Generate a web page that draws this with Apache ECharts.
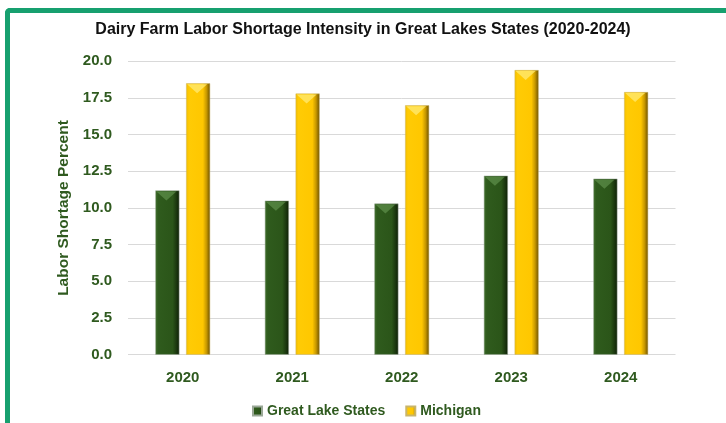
<!DOCTYPE html>
<html>
<head>
<meta charset="utf-8">
<script src="https://cdn.jsdelivr.net/npm/echarts@6/dist/echarts.min.js"></script>
<style>
  html, body { margin: 0; padding: 0; background: #fff; }
  #frame {
    position: absolute; left: 5px; top: 8px; width: 760px; height: 460px;
    border-left: 5px solid #17a06f; border-top: 5px solid #17a06f;
    border-top-left-radius: 5px; box-sizing: border-box;
  }
  #chart { position: absolute; left: 0; top: 0; width: 726px; height: 423px; }
</style>
</head>
<body>
<div id="frame"></div>
<div id="chart"></div>
<script>
const years = ['2020', '2021', '2022', '2023', '2024'];
const greatLakeStates = [11.2, 10.5, 10.3, 12.2, 12.0];
const michigan = [18.5, 17.8, 17.0, 19.4, 17.9];
const yTicks = [0, 2.5, 20];

const labelGreen = '#2f5a1f';
const BAR_W = 24;
const BAR_GAP = '28%';

const greenFill = new echarts.graphic.LinearGradient(0, 0, 1, 0, [
  { offset: 0, color: '#3d6c29' },
  { offset: 0.12, color: '#2f5b1d' },
  { offset: 0.72, color: '#2b5519' },
  { offset: 0.86, color: '#1d3b10' },
  { offset: 1, color: '#0e1f06' }
]);
const yellowFill = new echarts.graphic.LinearGradient(0, 0, 1, 0, [
  { offset: 0, color: '#f2bd00' },
  { offset: 0.12, color: '#ffcb05' },
  { offset: 0.7, color: '#ffc700' },
  { offset: 0.85, color: '#c79800' },
  { offset: 1, color: '#6b5000' }
]);

// lighter chevron that gives each column its bevelled top
function bevel(name, data, color) {
  return {
    name: name, type: 'pictorialBar', data: data,
    barWidth: BAR_W, barGap: BAR_GAP,
    symbol: 'triangle', symbolRotate: 180,
    symbolSize: [BAR_W - 4, 9], symbolPosition: 'end',
    symbolOffset: [-1, 1],
    itemStyle: { color: color }, z: 3, silent: true
  };
}

const chart = echarts.init(document.getElementById('chart'), null, { renderer: 'canvas' });
chart.setOption({
  animation: false,
  title: {
    text: 'Dairy Farm Labor Shortage Intensity in Great Lakes States (2020-2024)',
    left: 'center', top: 17,
    textStyle: { fontFamily: 'Liberation Sans', fontWeight: 'bold', fontSize: 16, color: '#111' }
  },
  legend: {
    data: ['Great Lake States', 'Michigan'],
    bottom: 0, left: 247,
    itemWidth: 9, itemHeight: 9, itemGap: 20,
    icon: 'rect',
    textStyle: { fontFamily: 'Liberation Sans', fontWeight: 'bold', fontSize: 14, color: labelGreen }
  },
  grid: { left: 128, right: 50.5, top: 61.3, bottom: 68.3 },
  xAxis: {
    type: 'category', data: years,
    axisLine: { show: false }, axisTick: { show: false },
    axisLabel: { margin: 16, fontFamily: 'Liberation Sans', fontWeight: 'bold', fontSize: 15, color: labelGreen }
  },
  yAxis: {
    type: 'value', min: yTicks[0], max: yTicks[2], interval: yTicks[1],
    name: 'Labor Shortage Percent', nameLocation: 'middle', nameGap: 51,
    nameTextStyle: { fontFamily: 'Liberation Sans', fontWeight: 'bold', fontSize: 15.5, color: labelGreen },
    axisLabel: { margin: 16, fontFamily: 'Liberation Sans', fontWeight: 'bold', fontSize: 15, color: labelGreen,
      formatter: v => v.toFixed(1) },
    splitLine: { lineStyle: { color: '#d9d9d9', width: 1 } }
  },
  series: [
    { name: 'Great Lake States', type: 'bar', data: greatLakeStates, barWidth: BAR_W, barGap: BAR_GAP,
      itemStyle: { color: greenFill, borderColor: '#9aa897', borderWidth: 0.5 } },
    { name: 'Michigan', type: 'bar', data: michigan, barWidth: BAR_W, barGap: BAR_GAP,
      itemStyle: { color: yellowFill, borderColor: '#c9b56a', borderWidth: 0.5 } },
    bevel('Great Lake States bevel', greatLakeStates, 'rgba(110,160,90,0.55)'),
    bevel('Michigan bevel', michigan, 'rgba(255,232,110,0.8)')
  ]
});
</script>
</body>
</html>
